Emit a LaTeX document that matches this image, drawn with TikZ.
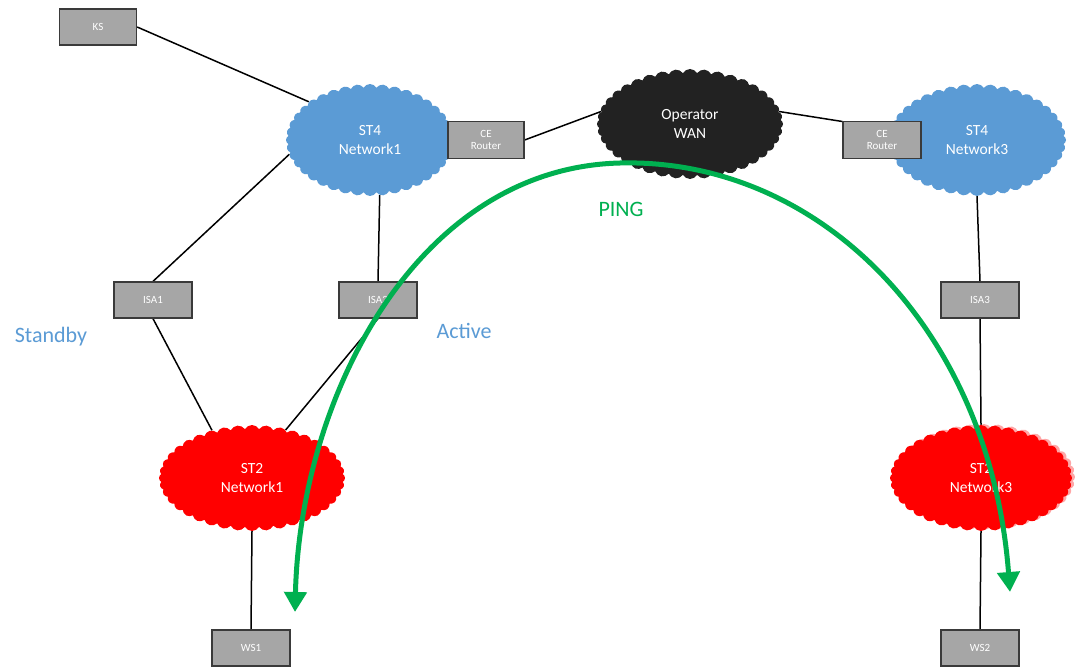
\documentclass[tikz,border=0pt]{standalone}
\usepackage{fontspec}
\setmainfont{Carlito}
\usetikzlibrary{shapes.symbols,arrows.meta,backgrounds}
\pgfdeclarelayer{paper}
\pgfsetlayers{paper,background,main}
\definecolor{netblue}{HTML}{5B9BD5}
\definecolor{boxgray}{HTML}{A6A6A6}
\definecolor{boxedge}{HTML}{3A3A3A}
\definecolor{pinggreen}{HTML}{00B050}
\definecolor{wanblack}{HTML}{222222}
\tikzset{
  device/.style={rectangle, fill=boxgray, draw=boxedge, line width=1.3pt,
    minimum width=78pt, minimum height=36pt, inner sep=0pt,
    text=white, font=\fontsize{11}{12}\selectfont, align=center},
  net/.style={cloud, cloud puffs=40, cloud puff arc=120, cloud ignores aspect,
    inner sep=0pt, text=white, align=center,
    font=\fontsize{15.5}{19}\selectfont},
  link/.style={draw=black, line width=1.5pt},
  label/.style={font=\fontsize{22}{24}\selectfont},
  ping/.style={draw=pinggreen, line width=5pt,
    {Triangle[length=20pt,width=22pt]}-{Triangle[length=20pt,width=22pt]}}
}
\begin{document}
\begin{tikzpicture}[x=1pt,y=-1pt]
\begin{pgfonlayer}{paper}
  \fill[white] (0,0) rectangle (1075,668);
\end{pgfonlayer}
\useasboundingbox (0,0) rectangle (1075,668);

% clouds
\node[net, fill=netblue, minimum width=168pt, minimum height=112pt] (st4a) at (370,140) {ST4\\Network1};
\node[net, fill=wanblack, minimum width=186pt, minimum height=110pt] (wan) at (690,124) {Operator\\WAN};
\node[net, fill=netblue, minimum width=178pt, minimum height=112pt] (st4c) at (977,140) {ST4\\Network3};
\node[net, fill=red, minimum width=186pt, minimum height=106pt] (st2a) at (252,478) {ST2\\Network1};
\node[net, fill=red!35, minimum width=182pt, minimum height=106pt] (st2cshade) at (984,477) {};
\node[net, fill=red, minimum width=182pt, minimum height=106pt] (st2c) at (981,478) {ST2\\Network3};

% devices
\node[device, minimum width=77pt] (ks) at (98,27) {KS};
\node[device, minimum width=76pt, minimum height=37pt] (celeft) at (486,140) {CE\\Router};
\node[device, minimum width=78pt, minimum height=37pt] (ceright) at (882,140) {CE\\Router};
\node[device] (isa1) at (153,300) {ISA1};
\node[device] (isa2) at (378,300) {ISA2};
\node[device] (isa3) at (980,300) {ISA3};
\node[device] (ws1) at (251,648) {WS1};
\node[device] (ws2) at (980,648) {WS2};

% links behind the nodes
\begin{scope}[on background layer]
  \draw[link] (ks.east) -- (st4a.148);
  \draw[link] (st4a.190) -- (isa1.north);
  \draw[link] (st4a.-80) -- (isa2.north);
  \draw[link] (celeft.east) -- (wan.172);
  \draw[link] (wan.8) -- (ceright.155);
  \draw[link] (st4c.south) -- (isa3.north);
  \draw[link] (isa1.south) -- (st2a.130);
  \draw[link] (isa2.south) -- (st2a.55);
  \draw[link] (isa3.south) -- (st2c.north);
  \draw[link] (st2a.south) -- (ws1.north);
  \draw[link] (st2c.south) -- (ws2.north);
\end{scope}

% labels
\node[label, text=netblue] (standby) at (51,337) {Standby};
\node[label, text=netblue] (active) at (464,331) {Active};
\node[label, text=pinggreen] (pinglbl) at (621,209) {PING};

% ping path
\coordinate (pingstart) at (295,612);
\coordinate (pingtop) at (620,163);
\coordinate (pingend) at (1010,592);
\draw[ping] (pingstart) .. controls (300,400) and (415,168) .. (pingtop)
  .. controls (820,158) and (990,330) .. (pingend);
\end{tikzpicture}
\end{document}
